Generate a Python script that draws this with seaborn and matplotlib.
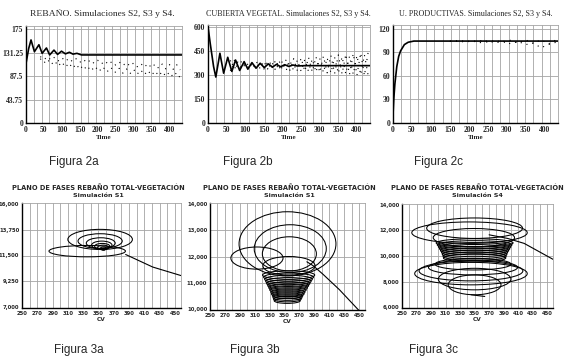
import numpy as np
import pandas as pd
import seaborn as sns
from matplotlib import pyplot as plt
from matplotlib.patches import Ellipse

# ---------------- Figura 2a : REBAÑO ----------------
t_reb_s2 = [0, 7.5, 14, 23.5, 36, 45, 57, 66, 78, 88, 99, 110, 121, 131, 142, 155, 435]
reb_s2 = [111, 139, 155, 133, 146, 130, 140, 127, 136, 128, 134, 129, 132, 128.5, 130, 127, 127]
t_reb_dots = list(range(40, 431, 10))
reb_s3 = [124, 118, 124, 117, 123, 116, 122, 115, 121, 114, 120, 113, 119, 112, 118, 111, 117, 110, 116, 109,
          115, 108, 114, 107, 113, 106, 112, 105, 111, 104, 111, 103, 110, 102, 110, 101, 109, 100, 109, 99]
reb_s4 = [120, 112, 119, 109, 116, 106, 114, 104, 112, 102, 110, 100, 108, 98, 106, 97, 105, 96, 104, 95,
          103, 94, 102, 93, 101, 92, 100, 91, 99, 90, 98, 89, 97, 88, 96, 87, 95, 86, 94, 84]

# ---------------- Figura 2b : CUBIERTA VEGETAL ----------------
t_cv_s2 = [0, 6, 15, 21, 32, 42, 53, 64, 74, 85, 97, 107, 118, 129, 140, 151, 162, 173, 184, 195,
           206, 217, 228, 240, 260, 435]
cv_s2 = [600, 495, 351, 286, 434, 310, 409, 321, 392, 327, 382, 335, 376, 341, 372, 345, 368, 348, 365, 350,
         363, 352, 361, 355, 357, 357]
t_cv_dots = list(range(60, 431, 10))
cv_s3 = [325, 395, 332, 385, 345, 378, 340, 382, 338, 385, 336, 388, 334, 392, 331, 396, 328, 400, 325,
         404, 322, 408, 318, 412, 315, 416, 312, 420, 308, 424, 305, 428, 302, 432, 298, 436, 295, 440]
cv_s4 = [390, 330, 380, 340, 370, 342, 375, 338, 378, 335, 380, 333, 383, 330, 386, 328, 389, 325, 392,
         322, 395, 320, 398, 317, 402, 314, 405, 312, 409, 309, 412, 306, 416, 303, 420, 300, 424, 297]

# ---------------- Figura 2c : U. PRODUCTIVAS ----------------
t_up_s2 = [0, 2, 5, 10, 15, 20, 30, 40, 55, 435]
up_s2 = [10, 30, 50, 72, 85, 92, 100, 103, 104.5, 104.5]
t_up_dots = list(range(150, 431, 20))
up_s3 = [104.5, 104, 105, 103.5, 105, 103, 105.5, 102.5, 105.5, 102, 106, 101.5, 106, 101, 106]
up_s4 = [104, 105, 103, 105, 102.5, 105, 102, 104.5, 101, 104, 100, 102, 96, 100, 103]

# ---------------- Figuras 3a-3c : planos de fases (CV, rebaño) ----------------
# trayectoria de entrada
f3a_cv = [462, 421, 385.6]
f3a_reb = [9680, 10500, 11587]
f3b_cv = [462, 423.6, 401.6, 388.5, 380]
f3b_reb = [9600, 10749, 11330, 11651, 11800]
f3c_cv = [460, 418.3, 395.5, 370]
f3c_reb = [9680, 10981, 11368, 11650]
f3c_end_cv = [345, 364]
f3c_end_reb = [6985, 6848]

# lazos del espiral: centro (cv, rebaño), ancho y alto
f3a_cx = [335.3, 352.2, 352.2, 353, 354.4, 355, 356, 356.5, 356.7, 356.7]
f3a_cy = [11878, 12894, 12749, 12574, 12400, 12300, 12197, 12110, 12060, 12030]
f3a_w = [100, 84.4, 57.8, 37.8, 26.7, 20, 14.2, 8, 5, 3]
f3a_h = [987, 1742, 1277, 929, 697, 494, 406, 260, 150, 80]

f3b_cx = [313, 354, 357.7, 356.5, 356, 355.5, 355.4, 355.3, 355.2, 355, 354.9, 354.8, 354.6, 354.5, 354.3,
          354.1, 354, 353.8, 353.6]
f3b_cy = [11941, 12477, 12296, 12100, 11650, 11300, 11220, 11140, 11060, 10980, 10900, 10820, 10740,
          10660, 10590, 10520, 10450, 10390, 10330]
f3b_w = [70, 130, 96.7, 72.5, 70, 70, 67, 64, 61, 58, 55, 52, 49, 46, 44, 41, 39, 37, 35]
f3b_h = [836, 2426, 1807, 1290, 700, 320, 310, 300, 290, 280, 270, 260, 250, 240, 230, 220, 210, 205, 200]

f3c_cx = [343, 350, 349, 350, 350, 350, 350, 350, 350, 350, 350, 350,
          347.8, 347.8, 345, 345, 350, 350]
f3c_cy = [11817, 12165, 11430, 11020, 10870, 10720, 10570, 10420, 10270, 10120, 9980, 9850,
          9364, 9108, 8837, 8630, 8203, 7754]
f3c_w = [159, 132, 112, 106, 103, 100, 97, 94, 91, 89, 87, 86,
         104.6, 122.7, 143, 155, 100, 72.7]
f3c_h = [1672, 1595, 1424, 650, 650, 650, 650, 650, 650, 650, 650, 650,
         903, 1161, 1548, 1754, 1677, 1548]

time_ticks = [0, 50, 100, 150, 200, 250, 300, 350, 400]
cv_ticks = [250, 270, 290, 310, 330, 350, 370, 390, 410, 430, 450]

sns.set_theme(style="white")
plt.rcParams['font.family'] = ['Liberation Serif', 'DejaVu Serif']

W, H = 564, 362
fig = plt.figure(figsize=(W / 100, H / 100), dpi=100)
fig.patch.set_facecolor('white')

GRID = '#a4a4a4'


def axes_px(l, t, r, b):
    return fig.add_axes([l / W, 1 - b / H, (r - l) / W, (b - t) / H])


def frame(ax):
    for s in ['left', 'bottom']:
        ax.spines[s].set_color('black')
        ax.spines[s].set_linewidth(1.0)
    for s in ['top', 'right']:
        ax.spines[s].set_color(GRID)
        ax.spines[s].set_linewidth(0.6)
    ax.tick_params(length=0, pad=2)
    ax.set_facecolor('white')


def time_axes(ax, ymax, yticks, ylabels):
    frame(ax)
    ax.set_xlim(0, 435)
    ax.set_ylim(0, ymax)
    for g in np.arange(21.75, 435, 21.75):
        ax.axvline(g, color=GRID, lw=0.6, zorder=0)
    for y in yticks[1:]:
        ax.axhline(y, color=GRID, lw=0.6, zorder=0)
    ax.set_xticks(time_ticks)
    ax.set_xticklabels([str(v) for v in time_ticks], fontsize=5.5, fontweight='bold')
    ax.set_yticks(yticks)
    ax.set_yticklabels(ylabels, fontsize=5.5, fontweight='bold')
    ax.set_xlabel('Time', fontsize=5, fontweight='bold', labelpad=1)
    ax.set_ylabel('')


def phase_axes(ax, ylim, yticks, ylabels):
    frame(ax)
    ax.set_xlim(250, 458)
    ax.set_ylim(*ylim)
    for g in range(260, 458, 10):
        ax.axvline(g, color=GRID, lw=0.6, zorder=0)
    for y in yticks[1:-1]:
        ax.axhline(y, color=GRID, lw=0.6, zorder=0)
    ax.set_xticks(cv_ticks)
    ax.set_xticklabels([str(v) for v in cv_ticks], fontsize=3.8, fontweight='bold', fontfamily='DejaVu Sans')
    ax.set_yticks(yticks)
    ax.set_yticklabels(ylabels, fontsize=3.8, fontweight='bold', fontfamily='DejaVu Sans')
    ax.set_xlabel('CV', fontsize=4.2, fontweight='bold', fontfamily='DejaVu Sans', labelpad=1)
    ax.set_ylabel('')


def draw_series(ax, t_solid, v_solid, t_dot, dots):
    sns.lineplot(x=t_solid, y=v_solid, ax=ax, color='black', lw=1.2, sort=False, estimator=None)
    for v in dots:
        sns.lineplot(x=t_dot, y=v, ax=ax, color='black', lw=0.8, sort=False, estimator=None,
                     linestyle=(0, (1, 4.5)))


def draw_phase(ax, cv_in, reb_in, cx, cy, w, h):
    sns.lineplot(x=cv_in, y=reb_in, ax=ax, color='black', lw=0.8, sort=False, estimator=None)
    for x0, y0, ww, hh in zip(cx, cy, w, h):
        ax.add_patch(Ellipse((x0, y0), ww, hh, fill=False, ec='black', lw=0.75, zorder=3))


# fila superior
ax2a = axes_px(26, 26, 182, 123)
draw_series(ax2a, t_reb_s2, reb_s2, t_reb_dots, [reb_s3, reb_s4])
time_axes(ax2a, 181, [0, 43.75, 87.5, 131.25, 175], ['0', '43.75', '87.5', '131.25', '175'])

ax2b = axes_px(208, 25, 370, 123)
draw_series(ax2b, t_cv_s2, cv_s2, t_cv_dots, [cv_s3, cv_s4])
time_axes(ax2b, 610, [0, 150, 300, 450, 600], ['0', '150', '300', '450', '600'])

ax2c = axes_px(393, 25, 558, 123)
draw_series(ax2c, t_up_s2, up_s2, t_up_dots, [up_s3, up_s4])
time_axes(ax2c, 125, [0, 30, 60, 90, 120], ['0', '30', '60', '90', '120'])

fig.text(102 / W, 1 - 14 / H, 'REBAÑO. Simulaciones S2, S3 y S4.', ha='center', va='center', fontsize=6.8)
fig.text(288 / W, 1 - 14 / H, 'CUBIERTA VEGETAL. Simulaciones S2, S3 y S4.', ha='center', va='center',
         fontsize=5.8)
fig.text(476 / W, 1 - 14 / H, 'U. PRODUCTIVAS. Simulaciones S2, S3 y S4.', ha='center', va='center',
         fontsize=5.8)

# fila inferior
ax3a = axes_px(22, 203, 181, 308)
draw_phase(ax3a, f3a_cv, f3a_reb, f3a_cx, f3a_cy, f3a_w, f3a_h)
phase_axes(ax3a, (6950, 16050), [7000, 9250, 11500, 13750, 16000],
           ['7,000', '9,250', '11,500', '13,750', '16,000'])

ax3b = axes_px(210, 203, 365, 310)
draw_phase(ax3b, f3b_cv, f3b_reb, f3b_cx, f3b_cy, f3b_w, f3b_h)
phase_axes(ax3b, (9980, 14020), [10000, 11000, 12000, 13000, 14000],
           ['10,000', '11,000', '12,000', '13,000', '14,000'])

ax3c = axes_px(402, 204, 553, 308)
draw_phase(ax3c, f3c_cv, f3c_reb, f3c_cx, f3c_cy, f3c_w, f3c_h)
sns.lineplot(x=f3c_end_cv, y=f3c_end_reb, ax=ax3c, color='black', lw=0.8, sort=False, estimator=None)
phase_axes(ax3c, (5950, 14050), [6000, 8000, 10000, 12000, 14000],
           ['6,000', '8,000', '10,000', '12,000', '14,000'])

for xc, sub in [(98, 'Simulación S1'), (289, 'Simulación S1'), (477, 'Simulación S4')]:
    fig.text(xc / W, 1 - 188 / H, 'PLANO DE FASES REBAÑO TOTAL-VEGETACIÓN', ha='center', va='center',
             fontsize=4.8, fontweight='bold', fontfamily='DejaVu Sans')
    fig.text(xc / W, 1 - 195.5 / H, sub, ha='center', va='center',
             fontsize=4.6, fontweight='bold', fontfamily='DejaVu Sans')

for xc, yc, cap in [(74, 162, 'Figura 2a'), (248, 162, 'Figura 2b'), (438, 162, 'Figura 2c'),
                    (79, 350, 'Figura 3a'), (255, 350, 'Figura 3b'), (434, 350, 'Figura 3c')]:
    fig.text(xc / W, 1 - yc / H, cap, ha='center', va='center', fontsize=8.5, fontfamily='Liberation Sans')

plt.savefig('out.png', dpi=100, facecolor='white')
